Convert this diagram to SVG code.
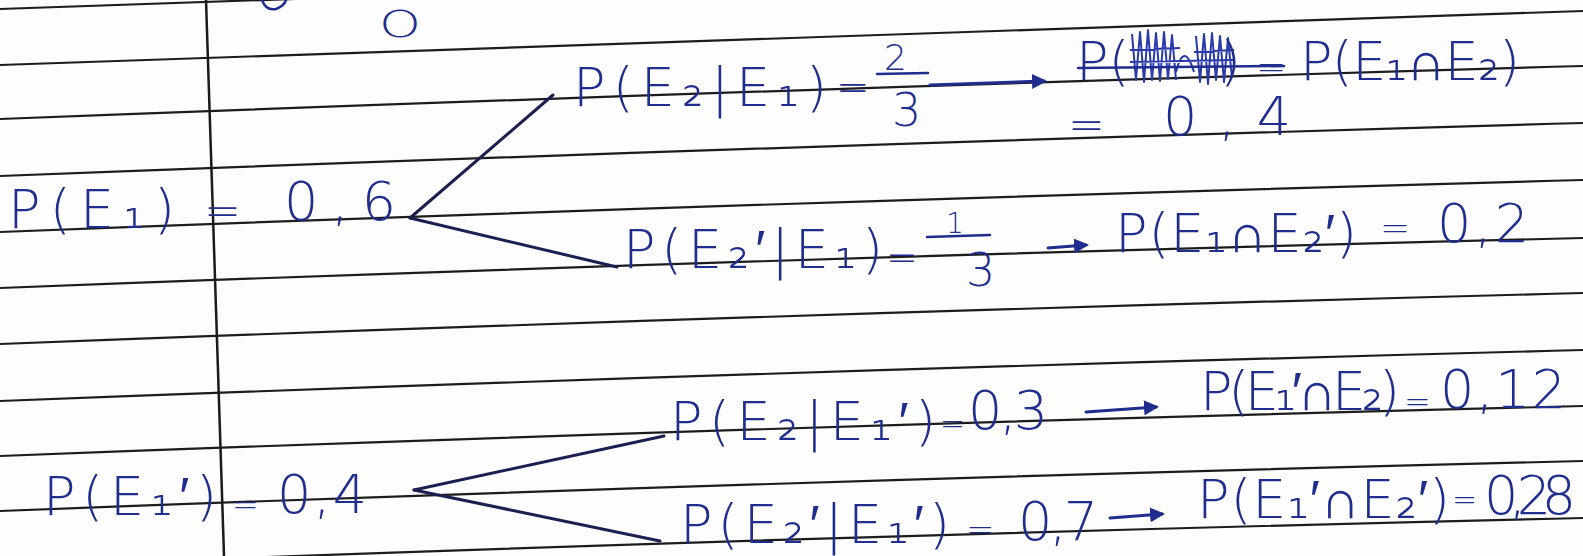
<svg xmlns="http://www.w3.org/2000/svg" width="1583" height="556" viewBox="0 0 1583 556">
<defs>
<style>
.rule{fill:none;stroke:#1c1c1c;stroke-width:2.2}
.margin{fill:none;stroke:#1a1a1a;stroke-width:2.5}
.branch{fill:none;stroke:#1b2050;stroke-width:3;stroke-linecap:round}
.arrow{fill:none;stroke:#1f2d8f;stroke-width:3;stroke-linecap:round}
.ink{fill:#1f2d8f;font-family:"DejaVu Sans","Liberation Sans",sans-serif;font-weight:200;font-size:54px}
.ink2{fill:#1f2d8f;font-family:"DejaVu Sans","Liberation Sans",sans-serif;font-weight:200}
.ink-line{fill:none;stroke:#1f2d8f;stroke-width:2.5;stroke-linecap:round}
.scrib{fill:none;stroke:#2a3aa8;stroke-width:2;stroke-linejoin:round}
</style>
<marker id="ah" viewBox="0 0 10 10" refX="8" refY="5" markerWidth="5" markerHeight="5" orient="auto" markerUnits="strokeWidth">
<path d="M0,0 L10,5 L0,10 z" fill="#1f2d8f"/>
</marker>
</defs>
<rect width="1583" height="556" fill="#fdfdfd"/>
<g id="paper">
<path class="rule" d="M0,9 Q791.5,-21.4 1583,-45"/>
<path class="rule" d="M0,65 Q791.5,34.6 1583,11"/>
<path class="rule" d="M0,119 Q791.5,88.6 1583,66"/>
<path class="rule" d="M0,176 Q791.5,145.6 1583,123"/>
<path class="rule" d="M0,232 Q791.5,201.6 1583,180"/>
<path class="rule" d="M0,288 Q791.5,257.6 1583,238"/>
<path class="rule" d="M0,344 Q791.5,313.6 1583,293"/>
<path class="rule" d="M0,401 Q791.5,370.6 1583,350"/>
<path class="rule" d="M0,456 Q791.5,425.6 1583,406"/>
<path class="rule" d="M0,511 Q791.5,480.6 1583,461"/>
<path class="rule" d="M0,567 Q791.5,536.6 1583,518"/>
<path class="margin" d="M206,0 L224,556"/>
</g>
<g id="top-fragment">
<path class="ink-line" d="M262,0 Q266,11 276,9 Q284,6 286,0"/>
<text class="ink2" x="379" y="37" font-size="38" textLength="42" lengthAdjust="spacingAndGlyphs">O</text>
</g>
<g id="connectors">
<path class="branch" d="M410,218 L553,95"/>
<path class="branch" d="M410,218 L617,267"/>
<path class="branch" d="M414,490 L664,436"/>
<path class="branch" d="M414,490 L660,541"/>
<path class="arrow" d="M930,85 L1044,81" marker-end="url(#ah)"/>
<path class="arrow" d="M1048,248 L1086,245" marker-end="url(#ah)"/>
<path class="arrow" d="M1086,412 L1156,407" marker-end="url(#ah)"/>
<path class="arrow" d="M1110,518 L1162,514" marker-end="url(#ah)"/>
</g>
<g id="node-E1">
<text class="ink" x="8" y="228" textLength="167" lengthAdjust="spacing">P(E₁)</text>
<text class="ink2" x="204" y="226" font-size="44">=</text>
<text class="ink" x="284" y="220" textLength="112" lengthAdjust="spacing">0,6</text>
</g>
<g id="node-E2-given-E1">
<text class="ink" x="573" y="106" textLength="254" lengthAdjust="spacing">P(E₂|E₁)</text>
<text class="ink2" x="836" y="101" font-size="40">=</text>
<text class="ink2" x="884" y="70" font-size="36">2</text>
<path class="ink-line" d="M877,74 L928,73"/>
<text class="ink2" x="892" y="126" font-size="46">3</text>
</g>
<g id="node-E1-and-E2">
<text class="ink" x="1076" y="80">P(</text>
<path class="scrib" d="M1132,34 L1136,80 L1140,32 L1144,82 L1148,30 L1152,80 L1156,33 L1160,81 L1164,32 L1168,79 L1172,35 L1176,80 M1196,36 L1200,82 L1204,34 L1208,84 L1212,33 L1216,80 L1220,36 L1224,82 L1228,38 L1232,78 M1130,50 L1180,48 M1194,52 L1234,50 M1130,62 L1234,60 M1176,72 Q1184,40 1194,72"/>
<text class="ink" x="1220" y="80" font-size="46">)</text>
<path class="ink-line" d="M1078,68 L1284,66"/>
<text class="ink2" x="1256" y="79" font-size="36">=</text>
<text class="ink" x="1300" y="80" textLength="220" lengthAdjust="spacing">P(E₁∩E₂)</text>
<text class="ink2" x="1068" y="140" font-size="44">=</text>
<text class="ink" x="1163" y="135" textLength="128" lengthAdjust="spacing">0,4</text>
</g>
<g id="node-E2c-given-E1">
<text class="ink" x="623" y="268" textLength="260" lengthAdjust="spacing">P(E₂′|E₁)</text>
<text class="ink2" x="886" y="270" font-size="38">=</text>
<text class="ink2" x="946" y="233" font-size="28">1</text>
<path class="ink-line" d="M927,237 L990,235"/>
<text class="ink2" x="966" y="286" font-size="46">3</text>
</g>
<g id="node-E1-and-E2c">
<text class="ink" x="1115" y="252" textLength="242" lengthAdjust="spacing">P(E₁∩E₂′)</text>
<text class="ink2" x="1380" y="240" font-size="36">=</text>
<text class="ink" x="1437" y="242" textLength="92" lengthAdjust="spacing">0,2</text>
</g>
<g id="node-E1c">
<text class="ink" x="43" y="515" textLength="174" lengthAdjust="spacing">P(E₁′)</text>
<text class="ink2" x="232" y="515" font-size="32">=</text>
<text class="ink" x="277" y="513" textLength="90" lengthAdjust="spacing">0,4</text>
</g>
<g id="node-E2-given-E1c">
<text class="ink" x="670" y="440" textLength="266" lengthAdjust="spacing">P(E₂|E₁′)</text>
<text class="ink2" x="940" y="434" font-size="30">=</text>
<text class="ink" x="968" y="429" font-size="44" textLength="80" lengthAdjust="spacing">0,3</text>
</g>
<g id="node-E1c-and-E2">
<text class="ink" x="1200" y="410" textLength="200" lengthAdjust="spacing">P(E₁′∩E₂)</text>
<text class="ink2" x="1404" y="412" font-size="32">=</text>
<text class="ink" x="1440" y="408" font-size="44" textLength="126" lengthAdjust="spacing">0,12</text>
</g>
<g id="node-E2c-given-E1c">
<text class="ink" x="680" y="543" textLength="270" lengthAdjust="spacing">P(E₂′|E₁′)</text>
<text class="ink2" x="966" y="541" font-size="34">=</text>
<text class="ink" x="1018" y="540" textLength="80" lengthAdjust="spacing">0,7</text>
</g>
<g id="node-E1c-and-E2c">
<text class="ink" x="1197" y="518" textLength="253" lengthAdjust="spacing">P(E₁′∩E₂′)</text>
<text class="ink2" x="1452" y="510" font-size="30">=</text>
<text class="ink" x="1484" y="514" font-size="36" textLength="92" lengthAdjust="spacing">0,28</text>
</g>
</svg>
